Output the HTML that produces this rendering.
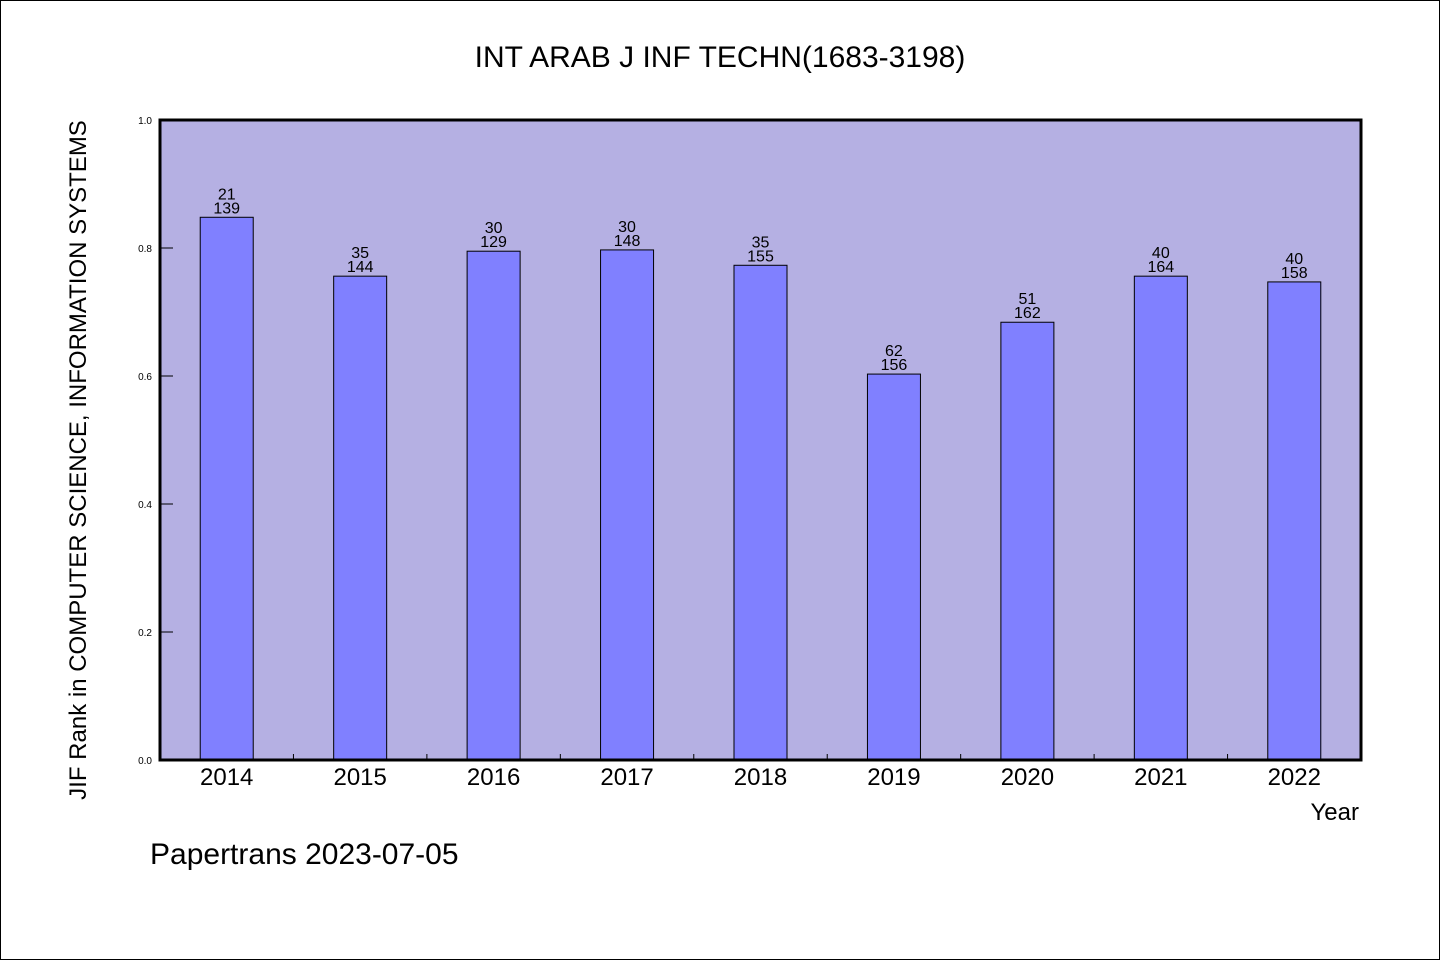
<!DOCTYPE html>
<html><head><meta charset="utf-8"><style>
body{margin:0;background:#fff}
svg text{font-family:"WenQuanYi Zen Hei","Liberation Sans",sans-serif;fill:#000}
</style></head><body>
<svg width="1440" height="960" xmlns="http://www.w3.org/2000/svg">
<rect x="0.5" y="0.5" width="1439" height="959" fill="#fff" stroke="#000"/>
<text x="720" y="67" font-size="30" text-anchor="middle">INT ARAB J INF TECHN(1683-3198)</text>
<rect x="160" y="120" width="1201" height="640" fill="#b5b0e3"/>
<g id="bars"></g>
<rect x="160" y="120" width="1201" height="640" fill="none" stroke="#000" stroke-width="3"/>
<text transform="translate(86,460) rotate(-90)" font-size="24" text-anchor="middle">JIF Rank in COMPUTER SCIENCE, INFORMATION SYSTEMS</text>
<text x="1359" y="820" font-size="24" text-anchor="end">Year</text>
<text x="150" y="864" font-size="30">Papertrans 2023-07-05</text>
</svg>
<script>
const years=["2014","2015","2016","2017","2018","2019","2020","2021","2022"];
const values=[0.848,0.756,0.795,0.797,0.773,0.603,0.684,0.756,0.747];
const ranks=["21","35","30","30","35","62","51","40","40"];
const totals=["139","144","129","148","155","156","162","164","158"];
const yTicks=["0.0","0.2","0.4","0.6","0.8","1.0"];
const ns="http://www.w3.org/2000/svg";
const X0=160,W=1201,Y0=760,H=640;
const band=W/years.length;
const xc=i=>X0+band*(i+0.5);
const y=v=>Y0-v*H;
const g=document.getElementById('bars');
function mk(t,a){const e=document.createElementNS(ns,t);for(const k in a)e.setAttribute(k,a[k]);g.appendChild(e);return e;}
yTicks.forEach(t=>{
 const v=parseFloat(t);
 const l=mk('line',{x1:X0,x2:X0+13,y1:y(v),y2:y(v),stroke:'#000'});
 
 
 const tx=mk('text',{x:X0-8,y:y(v)+4,'font-size':10,'text-anchor':'end'});
 tx.textContent=t;
 
 
});
years.forEach((yr,i)=>{
 const bw=53;
 const r=mk('rect',{x:xc(i)-bw/2,y:y(values[i]),width:bw,height:Y0-y(values[i]),fill:'#8080ff',stroke:'#000','stroke-width':1});
 
 
 const a=mk('text',{x:xc(i),y:y(values[i])-18,'font-size':16,'text-anchor':'middle'});
 a.textContent=ranks[i];
 
 
 const b=mk('text',{x:xc(i),y:y(values[i])-4,'font-size':16,'text-anchor':'middle'});
 b.textContent=totals[i];
 
 
 const xl=mk('text',{x:xc(i),y:785,'font-size':24,'text-anchor':'middle'});
 xl.textContent=yr;
 
 
 if(i>0){
  const t=mk('line',{x1:X0+band*i,x2:X0+band*i,y1:Y0,y2:Y0-6,stroke:'#000'});
  
  
 }
});
</script>
</body></html>
